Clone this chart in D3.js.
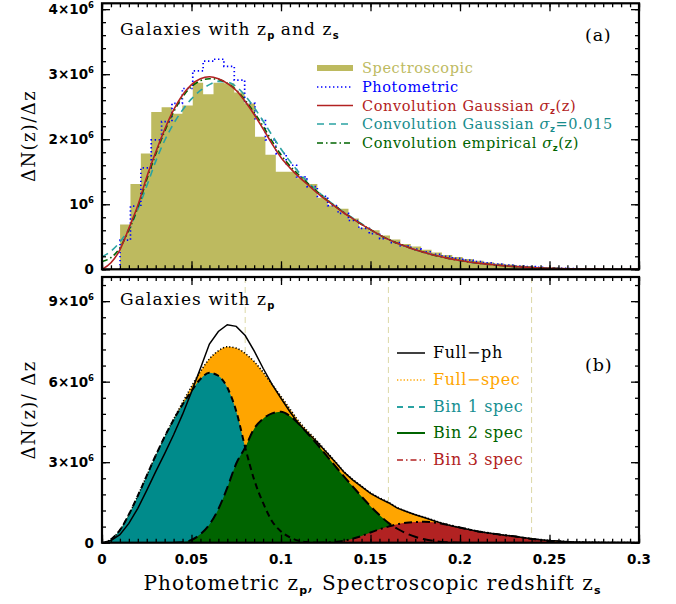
<!DOCTYPE html>
<html>
<head>
<meta charset="utf-8">
<script src="https://cdn.jsdelivr.net/npm/d3@7/dist/d3.min.js"></script>
<style>
  body { margin: 0; background: #fff; }
  svg { display: block; }
  text { font-family: "DejaVu Serif", serif; }
  .tick-label { font-family: "DejaVu Sans", sans-serif; font-weight: bold; font-size: 13.5px; }
</style>
</head>
<body>
<svg id="chart" width="676" height="604"></svg>
<script>
// ---------------- data (all densities in units of 10^6) ----------------

// Histogram binning shared by the spectroscopic and photometric counts
const histBinStart = 0.0101;
const histBinWidth = 0.0058;

// Spectroscopic redshift histogram, ΔN/Δz per bin
const specCounts = [0.69, 1.31, 1.78, 2.42, 2.49, 2.39, 2.52, 2.87, 2.69, 2.87,
  2.86, 2.72, 2.55, 2.04, 1.76, 1.50, 1.50, 1.40, 1.31, 1.10,
  0.98, 0.93, 0.78, 0.64, 0.60, 0.52, 0.46, 0.39, 0.35, 0.30,
  0.26, 0.22, 0.19, 0.16, 0.13, 0.11, 0.09, 0.075, 0.06, 0.045,
  0.035, 0.025, 0.018, 0.012, 0.008, 0.005];

// Photometric redshift histogram (dotted steps)
const photCounts = [0.45, 0.97, 1.56, 1.99, 2.27, 2.55, 2.78, 3.05, 3.20, 3.23,
  3.12, 2.91, 2.55, 2.30, 1.99, 1.78, 1.60, 1.42, 1.27, 1.12,
  0.98, 0.86, 0.75, 0.63, 0.55, 0.47, 0.41, 0.36, 0.31, 0.27,
  0.23, 0.20, 0.17, 0.14, 0.12, 0.10, 0.08, 0.065, 0.05, 0.04,
  0.03, 0.022, 0.016, 0.011, 0.008, 0.006, 0.004, 0.003, 0.002, 0.001];

// Redshift grid of the smooth curves
const zGrid = [0, 0.005, 0.01, 0.015, 0.02, 0.025, 0.03, 0.035, 0.04, 0.045,
  0.05, 0.055, 0.06, 0.065, 0.07, 0.075, 0.08, 0.085, 0.09, 0.095,
  0.1, 0.105, 0.11, 0.115, 0.12, 0.125, 0.13, 0.135, 0.14, 0.145,
  0.15, 0.155, 0.16, 0.165, 0.17, 0.175, 0.18, 0.185, 0.19, 0.195,
  0.2, 0.205, 0.21, 0.215, 0.22, 0.225, 0.23, 0.235, 0.24, 0.245,
  0.25, 0.255, 0.26, 0.265, 0.27, 0.275, 0.28, 0.285, 0.29, 0.295, 0.3];

// Panel (a): convolved spectroscopic distributions
const convGaussSigmaZ = [0.00, 0.10, 0.30, 0.63, 0.98, 1.42, 1.80, 2.15, 2.45, 2.68,
  2.84, 2.93, 2.96, 2.93, 2.86, 2.75, 2.58, 2.38, 2.16, 1.93,
  1.72, 1.56, 1.42, 1.30, 1.18, 1.07, 0.97, 0.87, 0.78, 0.69,
  0.61, 0.53, 0.46, 0.40, 0.35, 0.30, 0.26, 0.22, 0.19, 0.16,
  0.135, 0.113, 0.095, 0.079, 0.065, 0.053, 0.042, 0.033, 0.026, 0.020,
  0.015, 0.011, 0.008, 0.006, 0.004, 0.003, 0.002, 0.001, 0.001, 0, 0];
const convGauss015 = [0.19, 0.28, 0.42, 0.62, 0.92, 1.28, 1.66, 1.98, 2.24, 2.45,
  2.62, 2.75, 2.84, 2.89, 2.88, 2.81, 2.67, 2.49, 2.28, 2.06,
  1.85, 1.66, 1.49, 1.34, 1.21, 1.09, 0.98, 0.88, 0.79, 0.70,
  0.61, 0.53, 0.46, 0.40, 0.35, 0.30, 0.26, 0.22, 0.19, 0.16,
  0.135, 0.113, 0.095, 0.079, 0.065, 0.053, 0.042, 0.033, 0.026, 0.020,
  0.015, 0.011, 0.008, 0.006, 0.004, 0.003, 0.002, 0.001, 0.001, 0, 0];
const convEmpirical = [0.12, 0.18, 0.33, 0.60, 0.95, 1.38, 1.77, 2.12, 2.42, 2.65,
  2.81, 2.90, 2.93, 2.92, 2.86, 2.76, 2.60, 2.41, 2.20, 1.97,
  1.76, 1.59, 1.45, 1.32, 1.20, 1.08, 0.975, 0.875, 0.78, 0.69,
  0.61, 0.53, 0.46, 0.40, 0.35, 0.30, 0.26, 0.22, 0.19, 0.16,
  0.135, 0.113, 0.095, 0.079, 0.065, 0.053, 0.042, 0.033, 0.026, 0.020,
  0.015, 0.011, 0.008, 0.006, 0.004, 0.003, 0.002, 0.001, 0.001, 0, 0];

// Panel (b): photometric sample and the spectroscopic bins
const fullPh = [0, 0.08, 0.30, 0.72, 1.28, 1.95, 2.65, 3.32, 4.02, 4.78,
  5.62, 6.50, 7.40, 7.87, 8.12, 8.06, 7.72, 7.15, 6.50, 5.90,
  5.38, 4.88, 4.42, 4.08, 3.76, 3.40, 3.03, 2.64, 2.34, 2.09,
  1.84, 1.65, 1.49, 1.29, 1.16, 1.04, 0.94, 0.83, 0.72, 0.63,
  0.56, 0.49, 0.42, 0.37, 0.32, 0.28, 0.24, 0.19, 0.15, 0.11,
  0.08, 0.06, 0.04, 0.03, 0.02, 0.015, 0.01, 0.007, 0.005, 0.003, 0.002];
const fullSpec = [0, 0.12, 0.47, 1.05, 1.75, 2.50, 3.25, 3.95, 4.60, 5.22,
  5.82, 6.38, 6.85, 7.15, 7.30, 7.25, 7.05, 6.75, 6.35, 5.90,
  5.45, 4.98, 4.52, 4.15, 3.80, 3.42, 3.05, 2.66, 2.36, 2.11,
  1.86, 1.67, 1.51, 1.31, 1.17, 1.05, 0.95, 0.84, 0.73, 0.64,
  0.57, 0.50, 0.43, 0.37, 0.32, 0.28, 0.24, 0.19, 0.15, 0.11,
  0.08, 0.06, 0.04, 0.03, 0.02, 0.015, 0.01, 0.007, 0.005, 0.003, 0.002];
const bin1Spec = [0, 0.12, 0.47, 1.05, 1.75, 2.50, 3.25, 3.95, 4.58, 5.15,
  5.65, 6.10, 6.33, 6.22, 5.78, 4.90, 3.55, 2.35, 1.48, 0.80,
  0.42, 0.20, 0.07, 0.02, 0, 0, 0, 0, 0, 0,
  0, 0, 0, 0, 0, 0, 0, 0, 0, 0,
  0, 0, 0, 0, 0, 0, 0, 0, 0, 0,
  0, 0, 0, 0, 0, 0, 0, 0, 0, 0, 0];
const bin2Spec = [0, 0, 0, 0, 0, 0, 0, 0, 0, 0.02,
  0.10, 0.32, 0.68, 1.25, 2.05, 2.95, 3.55, 4.25, 4.62, 4.82,
  4.88, 4.72, 4.42, 4.06, 3.68, 3.28, 2.88, 2.48, 2.10, 1.72,
  1.36, 1.03, 0.74, 0.52, 0.35, 0.22, 0.13, 0.07, 0.03, 0.01,
  0, 0, 0, 0, 0, 0, 0, 0, 0, 0,
  0, 0, 0, 0, 0, 0, 0, 0, 0, 0, 0];
const bin3Spec = [0, 0, 0, 0, 0, 0, 0, 0, 0, 0,
  0, 0, 0, 0, 0, 0, 0, 0, 0, 0,
  0, 0, 0, 0, 0, 0.01, 0.03, 0.07, 0.15, 0.25,
  0.38, 0.50, 0.60, 0.69, 0.74, 0.77, 0.78, 0.76, 0.71, 0.64,
  0.57, 0.49, 0.42, 0.37, 0.32, 0.28, 0.24, 0.19, 0.14, 0.10,
  0.06, 0.04, 0.02, 0.01, 0, 0, 0, 0, 0, 0, 0];

// Edges of the tomographic redshift bins
const tomoEdges = [0, 0.08, 0.16, 0.24];

// Axis ticks and labels
const xTickValues = [0, 0.05, 0.1, 0.15, 0.2, 0.25, 0.3];
const xTickLabels = ["0", "0.05", "0.1", "0.15", "0.2", "0.25", "0.3"];
const topYTickValues = [0, 1, 2, 3, 4];
const topYTickLabels = ["0", "10^6", "2×10^6", "3×10^6", "4×10^6"];
const botYTickValues = [0, 3, 6, 9];
const botYTickLabels = ["0", "3×10^6", "6×10^6", "9×10^6"];

// Legends
const topLegend = [
  { key: "spec", text: ["Spectroscopic"], color: "#bdba5f" },
  { key: "phot", text: ["Photometric"], color: "#0000ff" },
  { key: "gvar", text: ["Convolution Gaussian ", "σ", "z", "(z)"], color: "#b22222" },
  { key: "g015", text: ["Convolution Gaussian ", "σ", "z", "=0.015"], color: "#178c8c" },
  { key: "emp",  text: ["Convolution empirical ", "σ", "z", "(z)"], color: "#006400" }
];
const botLegend = [
  { key: "ph",   text: "Full−ph",   color: "#000000" },
  { key: "sp",   text: "Full−spec", color: "#ffa500" },
  { key: "b1",   text: "Bin 1 spec", color: "#178f92" },
  { key: "b2",   text: "Bin 2 spec", color: "#006400" },
  { key: "b3",   text: "Bin 3 spec", color: "#b22222" }
];

// ---------------- styles ----------------
const C = {
  olive: "#bdba5f", blue: "#0000ff", red: "#b22222",
  tealLine: "#2aa2a2", green: "#006400", orange: "#ffa500",
  tealFill: "#008b8b", greenFill: "#006400", redFill: "#b22222",
  guide: "#dcd8a6"
};
const lineStyles = {
  spec: { stroke: C.olive, width: 6, dash: null },
  phot: { stroke: C.blue, width: 1.7, dash: "1.4 2.6" },
  gvar: { stroke: C.red, width: 1.6, dash: null },
  g015: { stroke: C.tealLine, width: 1.6, dash: "7 5" },
  emp:  { stroke: C.green, width: 1.6, dash: "6 3 1.5 3" },
  ph:   { stroke: "#000", width: 1.5, dash: null },
  sp:   { stroke: C.orange, width: 1.6, dash: "1.3 2" },
  b1:   { stroke: C.tealLine, width: 1.8, dash: "6 5" },
  b2:   { stroke: C.green, width: 2, dash: null },
  b3:   { stroke: C.red, width: 1.6, dash: "6 3 1.5 3" }
};

// ---------------- scales ----------------
const svg = d3.select("#chart");
svg.append("rect").attr("width", 676).attr("height", 604).attr("fill", "#fff");

const x = d3.scaleLinear().domain([0, 0.3]).range([102, 639]);
const yTop = d3.scaleLinear().domain([0, 4.09]).range([269.3, 3.3]);
const yBot = d3.scaleLinear().domain([0, 9.9]).range([542.7, 277]);

const defs = svg.append("defs");
function clipFor(id, y) {
  defs.append("clipPath").attr("id", id).append("rect")
    .attr("x", x.range()[0]).attr("y", y.range()[1])
    .attr("width", x.range()[1] - x.range()[0])
    .attr("height", y.range()[0] - y.range()[1]);
}
clipFor("clipTop", yTop);
clipFor("clipBot", yBot);

const pts = vals => zGrid.map((z, i) => [z, vals[i]]);

// step histogram points: each bin's left edge, plus the closing right edge
function histPoints(counts) {
  const p = counts.map((v, k) => [histBinStart + k * histBinWidth, v]);
  p.push([histBinStart + counts.length * histBinWidth, counts[counts.length - 1]]);
  return p;
}

// ---------------- panel (a) ----------------
const gTop = svg.append("g").attr("clip-path", "url(#clipTop)");

const stepArea = d3.area().curve(d3.curveStepAfter)
  .x(d => x(d[0])).y0(yTop(0)).y1(d => yTop(d[1]));
gTop.append("path").datum(histPoints(specCounts))
  .attr("d", stepArea).attr("fill", C.olive);

const stepLine = d3.line().curve(d3.curveStepAfter)
  .x(d => x(d[0])).y(d => yTop(d[1]));
const photPts = [[histBinStart, 0]].concat(histPoints(photCounts));
function styled(sel, st) {
  sel.attr("fill", "none").attr("stroke", st.stroke).attr("stroke-width", st.width);
  if (st.dash) sel.attr("stroke-dasharray", st.dash);
  return sel;
}
styled(gTop.append("path").datum(photPts).attr("d", stepLine), lineStyles.phot);

const smoothTop = d3.line().curve(d3.curveMonotoneX)
  .x(d => x(d[0])).y(d => yTop(d[1]));
styled(gTop.append("path").datum(pts(convGauss015)).attr("d", smoothTop), lineStyles.g015);
styled(gTop.append("path").datum(pts(convEmpirical)).attr("d", smoothTop), lineStyles.emp);
styled(gTop.append("path").datum(pts(convGaussSigmaZ)).attr("d", smoothTop), lineStyles.gvar);

// ---------------- panel (b) ----------------
const gBot = svg.append("g").attr("clip-path", "url(#clipBot)");

gBot.selectAll("line.guide").data(tomoEdges).join("line")
  .attr("class", "guide")
  .attr("x1", d => x(d)).attr("x2", d => x(d))
  .attr("y1", yBot.range()[1]).attr("y2", yBot.range()[0])
  .attr("stroke", C.guide).attr("stroke-width", 1).attr("stroke-dasharray", "6 4");

const areaBot = d3.area().curve(d3.curveMonotoneX)
  .x(d => x(d[0])).y0(yBot(0)).y1(d => yBot(d[1]));
const lineBot = d3.line().curve(d3.curveMonotoneX)
  .x(d => x(d[0])).y(d => yBot(d[1]));
const lineBotLinear = d3.line().x(d => x(d[0])).y(d => yBot(d[1]));

gBot.append("path").datum(pts(fullSpec)).attr("d", areaBot).attr("fill", C.orange);
gBot.append("path").datum(pts(bin1Spec)).attr("d", areaBot).attr("fill", C.tealFill);
gBot.append("path").datum(pts(bin2Spec)).attr("d", areaBot).attr("fill", C.greenFill);
gBot.append("path").datum(pts(bin3Spec)).attr("d", areaBot).attr("fill", C.redFill);

function outline(vals, dash, w, from, to) {
  const d = pts(vals).filter(p => p[0] >= from - 1e-9 && p[0] <= to + 1e-9);
  const s = gBot.append("path").datum(d).attr("d", lineBot)
    .attr("fill", "none").attr("stroke", "#000").attr("stroke-width", w);
  if (dash) s.attr("stroke-dasharray", dash);
}
outline(fullSpec, "1.2 2", 1.6, 0, 0.3);
outline(bin1Spec, "6 4", 2, 0.005, 0.12);
outline(bin2Spec, "10 5", 2, 0.04, 0.2);
outline(bin3Spec, "8 4 2 4", 2, 0.12, 0.27);

gBot.append("path").datum(pts(fullPh)).attr("d", lineBotLinear)
  .attr("fill", "none").attr("stroke", "#000").attr("stroke-width", 1.5);

// ---------------- frames and ticks ----------------
function ticks(axisGen, tr, vals, size) {
  const g = svg.append("g").attr("transform", tr)
    .call(axisGen.tickValues(vals).tickSize(-size).tickFormat(""));
  g.select(".domain").remove();
  g.selectAll("line").attr("stroke", "#000").attr("stroke-width", 1.3);
}
function frame(y, yMajor, yMinor) {
  const L = x.range()[0], R = x.range()[1], T = y.range()[1], B = y.range()[0];
  const xMinor = x.ticks(60);
  ticks(d3.axisBottom(x), `translate(0,${B})`, xMinor, 4);
  ticks(d3.axisBottom(x), `translate(0,${B})`, xTickValues, 8);
  ticks(d3.axisTop(x), `translate(0,${T})`, xMinor, 4);
  ticks(d3.axisTop(x), `translate(0,${T})`, xTickValues, 8);
  ticks(d3.axisLeft(y), `translate(${L},0)`, yMinor, 4);
  ticks(d3.axisLeft(y), `translate(${L},0)`, yMajor, 8);
  ticks(d3.axisRight(y), `translate(${R},0)`, yMinor, 4);
  ticks(d3.axisRight(y), `translate(${R},0)`, yMajor, 8);
  svg.append("rect").attr("x", L).attr("y", T).attr("width", R - L).attr("height", B - T)
    .attr("fill", "none").attr("stroke", "#000").attr("stroke-width", 2.2);
}
frame(yTop, topYTickValues, d3.range(0, 4.09, 0.2));
frame(yBot, botYTickValues, d3.range(0, 9.9, 0.6));

// y tick labels with superscript exponents
function yLabels(y, vals, labels) {
  vals.forEach((v, i) => {
    const t = svg.append("text").attr("class", "tick-label")
      .attr("x", 94).attr("y", y(v) + 5).attr("text-anchor", "end");
    const parts = labels[i].split("^");
    t.append("tspan").text(parts[0]);
    if (parts[1]) t.append("tspan").attr("dy", -6).attr("font-size", 8.5).text(parts[1]);
  });
}
yLabels(yTop, topYTickValues, topYTickLabels);
yLabels(yBot, botYTickValues, botYTickLabels);

svg.selectAll("text.xlab").data(xTickValues).join("text")
  .attr("class", "tick-label xlab")
  .attr("x", d => x(d)).attr("y", 564).attr("text-anchor", "middle")
  .text((d, i) => xTickLabels[i]);

// ---------------- titles ----------------
function sub(t, s, size) {
  t.append("tspan").attr("dy", 4).attr("font-size", size).attr("font-family", "DejaVu Sans")
    .attr("font-weight", "bold").attr("letter-spacing", 0).text(s);
}
const xt = svg.append("text").attr("x", 372).attr("y", 590).attr("text-anchor", "middle")
  .attr("font-size", 20).attr("letter-spacing", 1.1);
xt.append("tspan").text("Photometric z");
sub(xt, "p", 11);
xt.append("tspan").attr("dy", -4).text(", Spectroscopic redshift z");
sub(xt, "s", 11);

[[136, "ΔN(z)/Δz"], [410, "ΔN(z)/ Δz"]].forEach(([cy, s]) => {
  svg.append("text").attr("transform", `translate(35,${cy}) rotate(-90)`)
    .attr("text-anchor", "middle").attr("font-size", 18).attr("letter-spacing", 1.4).text(s);
});

const t1 = svg.append("text").attr("x", 120).attr("y", 35).attr("font-size", 17).attr("letter-spacing", 1.1);
t1.append("tspan").text("Galaxies with z");
sub(t1, "p", 10);
t1.append("tspan").attr("dy", -4).text(" and z");
sub(t1, "s", 10);

const t2 = svg.append("text").attr("x", 120).attr("y", 305).attr("font-size", 17).attr("letter-spacing", 1.1);
t2.append("tspan").text("Galaxies with z");
sub(t2, "p", 10);

svg.append("text").attr("x", 585).attr("y", 41).attr("font-size", 17.5).attr("letter-spacing", 0.8).text("(a)");
svg.append("text").attr("x", 585).attr("y", 371).attr("font-size", 17.5).attr("letter-spacing", 0.8).text("(b)");

// ---------------- legends ----------------
const topRows = [68, 87, 105.5, 124, 143];
topLegend.forEach((d, i) => {
  const yy = topRows[i];
  const st = lineStyles[d.key];
  styled(svg.append("line").attr("x1", 317).attr("x2", 353).attr("y1", yy).attr("y2", yy), st);
  const t = svg.append("text").attr("x", 362).attr("y", yy + 5).attr("font-size", 14.5)
    .attr("fill", d.color).attr("letter-spacing", 0.6);
  t.append("tspan").text(d.text[0]);
  if (d.text.length > 1) {
    t.append("tspan").attr("font-style", "italic").text(d.text[1]);
    t.append("tspan").attr("dy", 3).attr("font-size", 8.5).attr("font-family", "DejaVu Sans").attr("font-weight", "bold").text(d.text[2]);
    t.append("tspan").attr("dy", -3).text(d.text[3]);
  }
});

const botRows = [353, 380, 407, 433, 460];
botLegend.forEach((d, i) => {
  const yy = botRows[i];
  styled(svg.append("line").attr("x1", 397).attr("x2", 425).attr("y1", yy).attr("y2", yy), lineStyles[d.key]);
  svg.append("text").attr("x", 433).attr("y", yy + 5).attr("font-size", 16)
    .attr("fill", d.color).attr("letter-spacing", 0.6).text(d.text);
});
</script>
</body>
</html>
